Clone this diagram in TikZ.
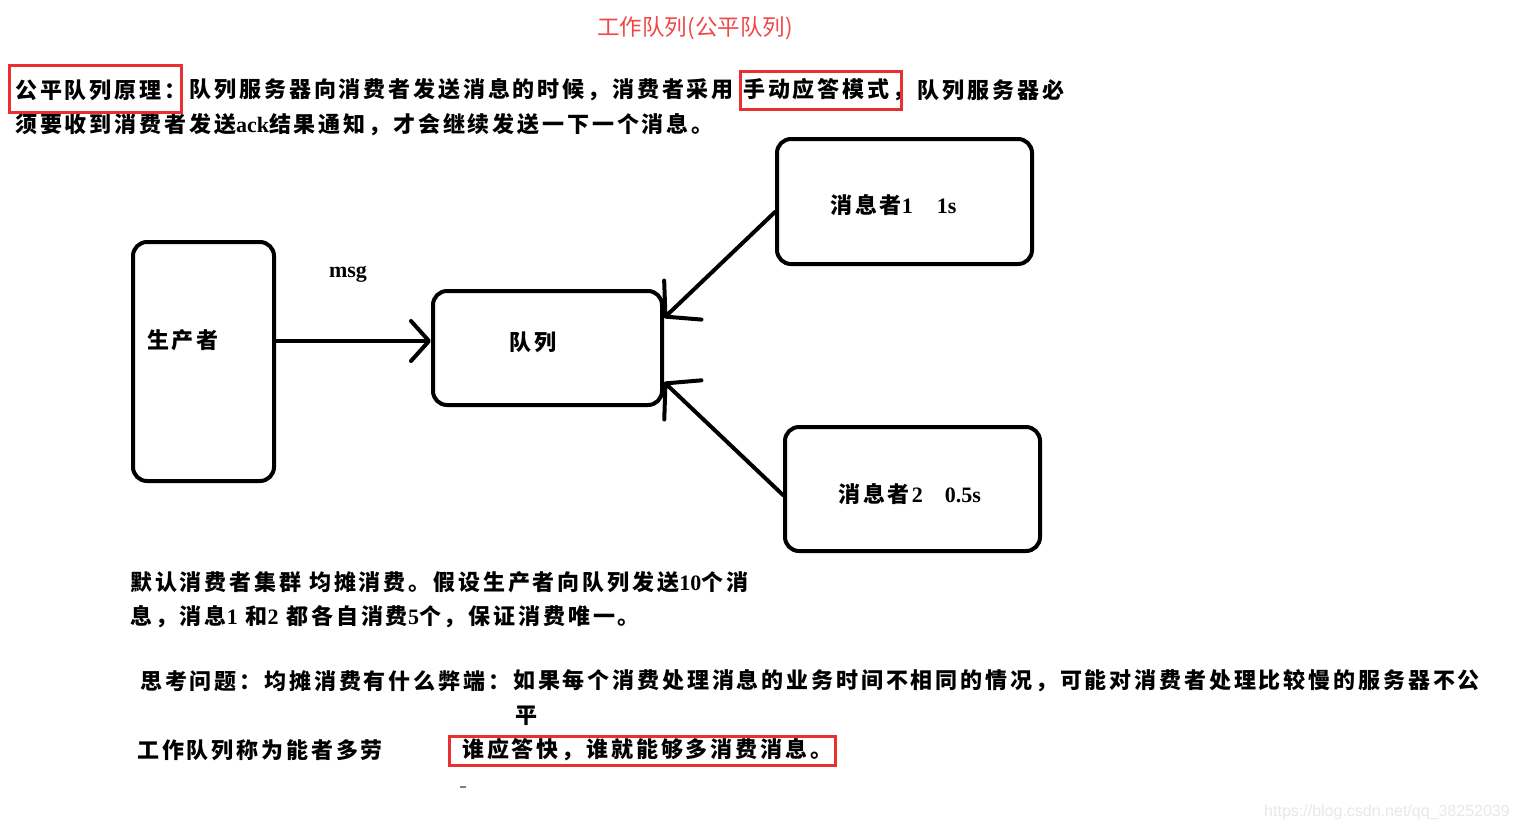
\documentclass[tikz,border=0pt]{standalone}
\usepackage{fontspec}
\setmainfont{Liberation Serif}
\setsansfont{Liberation Sans}
\newfontfamily\cjk[LetterSpace=13]{Noto Sans CJK SC}
\newfontfamily\cjkplain{Noto Sans CJK SC}
\usetikzlibrary{arrows.meta,calc}
\definecolor{boxred}{RGB}{232,48,48}
\definecolor{titlered}{RGB}{240,72,72}
\definecolor{wmgray}{RGB}{232,232,232}
\newcommand\lat[1]{{\rmfamily\bfseries #1}}
\begin{document}
\begin{tikzpicture}[x=1pt,y=-1pt,
  txt/.style={inner sep=0pt, anchor=west, font=\cjk\bfseries\fontsize{22}{26}\selectfont},
  lbl/.style={inner sep=0pt, font=\cjk\bfseries\fontsize{22}{26}\selectfont},
  redbox/.style={draw=boxred, line width=3pt},
  dbox/.style={draw, line width=4pt, rounded corners=14pt, inner sep=0pt},
  arr/.style={line width=4pt, line cap=round, -{Straight Barb[round,length=18pt,width=40pt]}},
  arrbig/.style={line width=4pt, line cap=round, -{Straight Barb[round,length=24pt,width=54pt]}}
]
\useasboundingbox (0,0) rectangle (1518,831);
\fill[white] (0,0) rectangle (1518,831);

% title
\node[inner sep=0pt, text=titlered, font=\cjkplain\fontsize{22.5}{26}\selectfont] (title) at (695,28) {工作队列(公平队列)};

% principle text
\node[txt] (p1) at (15,90) {公平队列原理：};
\node[txt] (p2) at ([xshift=3pt]p1.east) {队列服务器向消费者发送消息的时候，消费者采用};
\node[txt] (p3) at ([xshift=9pt]p2.east) {手动应答模式，};
\node[txt] (p4) at ([xshift=3pt]p3.east) {队列服务器必};
\node[txt] (p5) at (15,125) {须要收到消费者发送\lat{ack}结果通知，才会继续发送一下一个消息。};
\draw[redbox] ($(p1.west)+(-6,-25)$) rectangle ($(p1.east)+(-5,22)$);
\draw[redbox] ($(p3.west)+(-3,-19)$) rectangle ($(p3.east)+(-13,19)$);

% diagram boxes
\node[dbox, minimum width=141pt, minimum height=239pt] (prod) at (203.5,361.5) {};
\node[dbox, minimum width=229pt, minimum height=114pt] (queue) at (547.5,348) {};
\node[dbox, minimum width=255pt, minimum height=125pt] (c1) at (904.5,201.5) {};
\node[dbox, minimum width=255pt, minimum height=124pt] (c2) at (912.5,489) {};

\node[lbl] (prodl) at (183,340) {生产者};
\node[lbl] (queuel) at (533,342) {队列};
\node[txt] (c1l) at (830,205) {消息者\lat{1}\hspace{24pt}\lat{1s}};
\node[txt] (c2l) at (838,494) {消息者\hspace{2pt}\lat{2}\hspace{22pt}\lat{0.5s}};
\node[inner sep=0pt, font=\bfseries\fontsize{22}{26}\selectfont] (msg) at (348,274) {msg};

% connectors
\draw[arr] (prod.east |- 0,341) -- (queue.west |- 0,341);
\draw[arrbig] (c1.west |- 0,212) -- (queue.east |- 0,318);
\draw[arrbig] (c2.west |- 0,495) -- (queue.east |- 0,382);

% lower text
\node[txt] (d1) at (130,582) {默认消费者集群 均摊消费。假设生产者向队列发送\lat{10}个消};
\node[txt] (d2) at (130,617) {息，消息\lat{1} 和\lat{2} 都各自消费\lat{5}个，保证消费唯一。};
\node[txt] (q1) at (140,681) {思考问题：均摊消费有什么弊端：};
\node[txt] (q2) at (513,681) {如果每个消费处理消息的业务时间不相同的情况，可能对消费者处理比较慢的服务器不公};
\node[txt] (q3) at (515,716) {平};
\node[txt] (w1) at (137,750) {工作队列称为能者多劳};
\node[txt] (w2) at (462,750) {谁应答快，谁就能够多消费消息。};
\draw[redbox] ($(w2.west)+(-13,-14)$) rectangle ($(w2.east)+(3,15)$);

\draw[gray, line width=2pt] (460,787) -- (466,787);
\node[inner sep=0pt, text=wmgray, font=\sffamily\fontsize{16}{18}\selectfont] (wm) at (1387,812) {https://blog.csdn.net/qq\_38252039};
\end{tikzpicture}
\end{document}
